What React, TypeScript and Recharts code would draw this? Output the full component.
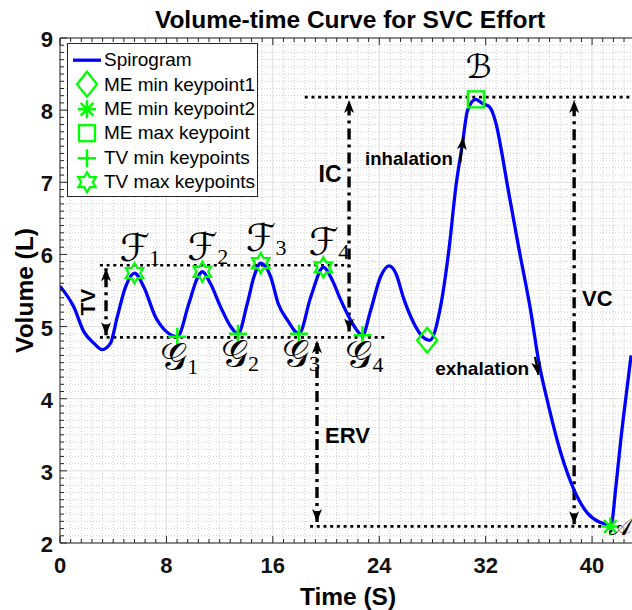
import {
  ComposedChart,
  Line,
  Scatter,
  XAxis,
  YAxis,
  CartesianGrid,
  ReferenceLine,
  ReferenceDot,
  Legend,
} from 'recharts';

// ---- chart data ----
const SPIRO_T = [
  0, 1.04, 1.79, 2.54, 3.17, 3.8, 4.3, 4.93, 5.6, 6.3, 7.19, 7.56, 8.0, 8.82,
  9.69, 10.32, 10.7, 11.3, 12.08, 12.83, 13.38, 14.08, 14.58, 15.09, 15.84, 16.4,
  17.1, 17.97, 18.85, 19.8, 20.48, 21.1, 22.0, 22.74, 23.36, 24.1, 24.74, 25.24,
  25.87, 26.62, 27.2, 27.8, 28.6, 29.26, 29.76, 30.26, 30.64, 31.26, 31.77, 32.26,
  32.77, 33.27, 33.65, 34.52, 35.4, 36.0, 36.6, 37.66, 38.66, 39.67, 40.54, 41.42,
  41.8, 42.17, 42.63, 42.93,
];
const SPIRO_V = [
  5.56, 5.27, 4.93, 4.77, 4.68, 4.77, 5.13, 5.55, 5.74, 5.55, 5.13, 5.02, 4.93, 4.86,
  5.32, 5.67, 5.76, 5.6, 5.27, 5.0, 4.9, 5.32, 5.69, 5.88, 5.69, 5.32,
  5.09, 4.9, 5.41, 5.82, 5.64, 5.37, 5.04, 4.88, 5.23, 5.69, 5.84, 5.74,
  5.37, 5.04, 4.87, 4.81, 5.27, 6.1, 6.94, 7.54, 8.0, 8.15, 8.09, 8.05,
  7.82, 7.35, 6.94, 6.06, 5.2, 4.5, 4.0, 3.24, 2.73, 2.41, 2.29, 2.25,
  2.8, 3.45, 4.15, 4.6,
];

const TV_MAX_T = [5.6, 10.7, 15.09, 19.8];
const TV_MAX_V = [5.74, 5.76, 5.88, 5.82];
const TV_MIN_T = [8.82, 13.38, 17.97, 22.74];
const TV_MIN_V = [4.86, 4.9, 4.9, 4.88];
const ME_MIN1 = [{ t: 27.6, v: 4.81 }];
const ME_MIN2 = [{ t: 41.37, v: 2.23 }];
const ME_MAX = [{ t: 31.26, v: 8.15 }];
const KEY_SUBS = ['1', '2', '3', '4'];

// dotted guide levels and dash-dot double arrows
const GUIDES = [
  { v: 5.85, from: 3.0, to: 21.73 },
  { v: 4.85, from: 3.0, to: 24.6 },
  { v: 8.18, from: 18.4, to: 43 },
  { v: 2.23, from: 18.8, to: 40.75 },
];
const DOUBLE_ARROWS = [
  { t: 3.46, lo: 4.88, hi: 5.81 },
  { t: 21.73, lo: 4.93, hi: 8.14 },
  { t: 19.32, lo: 2.29, hi: 4.81 },
  { t: 38.65, lo: 2.26, hi: 8.14 },
];
const FLOW_ARROWS = [
  { t0: 30.08, v0: 7.27, t1: 30.32, v1: 7.63, angle: 7 },
  { t0: 35.71, v0: 4.58, t1: 35.96, v1: 4.33, angle: 170 },
];
const WORD_LABELS = [
  { text: 'IC', t: 20.3, v: 7.01, anchor: 'middle', size: 23 },
  { text: 'ERV', t: 19.92, v: 3.39, anchor: 'start', size: 22 },
  { text: 'VC', t: 39.25, v: 5.29, anchor: 'start', size: 22 },
  { text: 'inhalation', t: 22.93, v: 7.24, anchor: 'start', size: 18.6 },
  { text: 'exhalation', t: 28.2, v: 4.33, anchor: 'start', size: 19 },
];

const X_MAX = 43;
const X_MAJOR = [0, 8, 16, 24, 32, 40];
const Y_MAJOR = [2, 3, 4, 5, 6, 7, 8, 9];
const X_TICKS = Array.from({ length: 54 }, (_, i) => Math.round(i * 8) / 10);
const Y_TICKS = Array.from({ length: 71 }, (_, i) => Math.round(20 + i) / 10);

const W = 632;
const H = 610;
const MARGIN = { top: 38, right: 0, bottom: 37, left: 0 };
const X_AXIS_H = 30;
const Y_AXIS_W = 60;
const PLOT_TOP = MARGIN.top;
const PLOT_BOTTOM = H - MARGIN.bottom - X_AXIS_H;
const PLOT_LEFT = Y_AXIS_W;

const FONT = '"Liberation Sans", Arial, Helvetica, sans-serif';
const MATH_FONT = '"DejaVu Sans", "DejaVu Serif", serif';
const SUB_FONT = '"Liberation Serif", "DejaVu Serif", serif';
const AXIS = '#262626';
const GREEN = '#00ff00';
const BLUE = '#0000ff';

const spiroData = SPIRO_T.map((t, i) => ({ t, v: SPIRO_V[i] }));
const tvMaxData = TV_MAX_T.map((t, i) => ({ t, v: TV_MAX_V[i] }));
const tvMinData = TV_MIN_T.map((t, i) => ({ t, v: TV_MIN_V[i] }));

const isMajor = (v: number, step: number) => Math.abs(v / step - Math.round(v / step)) < 1e-6;

// ---- marker shapes ----
const Hexagram = ({ cx, cy }: any) => {
  const R = 10;
  const pts = [];
  for (let i = 0; i < 12; i++) {
    const r = i % 2 === 0 ? R : R / Math.sqrt(3);
    const a = -Math.PI / 2 + (i * Math.PI) / 6;
    pts.push(`${cx + r * Math.cos(a)},${cy + r * Math.sin(a)}`);
  }
  return <polygon points={pts.join(' ')} fill="none" stroke={GREEN} strokeWidth={2.3} />;
};

const Plus = ({ cx, cy }: any) => (
  <path d={`M${cx - 9},${cy}H${cx + 9}M${cx},${cy - 9}V${cy + 9}`} stroke={GREEN} strokeWidth={2.5} />
);

const Diamond = ({ cx, cy }: any) => (
  <polygon
    points={`${cx},${cy - 12.5} ${cx + 10},${cy} ${cx},${cy + 12.5} ${cx - 10},${cy}`}
    fill="none"
    stroke={GREEN}
    strokeWidth={2.3}
  />
);

const Square = ({ cx, cy }: any) => (
  <rect x={cx - 8} y={cy - 8} width={16} height={16} fill="none" stroke={GREEN} strokeWidth={2.3} />
);

const Asterisk = ({ cx, cy }: any) => {
  const r = 9;
  const d = r * 0.7071;
  return (
    <path
      d={`M${cx - r},${cy}H${cx + r}M${cx},${cy - r}V${cy + r}M${cx - d},${cy - d}L${cx + d},${cy + d}M${cx - d},${cy + d}L${cx + d},${cy - d}`}
      stroke={GREEN}
      strokeWidth={2.5}
    />
  );
};

const arrowHead = (angle: number) => (p: any) => (
  <path
    d="M0,0 L5,13 L0,9.5 L-5,13 Z"
    transform={`translate(${p.cx},${p.cy}) rotate(${angle})`}
    fill="#000"
  />
);

const mathLabel = (letter: string, sub: string, dx: number, dy: number, size = 38, anchor = 'start') => (p: any) => (
  <text x={p.cx + dx} y={p.cy + dy} textAnchor={anchor as any} fontFamily={MATH_FONT} fontSize={size} fill="#000">
    {letter}
    {sub && (
      <tspan fontFamily={SUB_FONT} fontSize={22} dy={4}>
        {sub}
      </tspan>
    )}
  </text>
);

const wordLabel = (text: string, anchor: string, size: number) => (p: any) => (
  <text
    x={p.cx}
    y={p.cy}
    textAnchor={anchor as any}
    fontFamily={FONT}
    fontWeight="bold"
    fontSize={size}
    fill="#000"
  >
    {text}
  </text>
);

const tvLabel = (p: any) => (
  <text
    x={p.cx}
    y={p.cy}
    transform={`rotate(-90 ${p.cx} ${p.cy})`}
    textAnchor="middle"
    fontFamily={FONT}
    fontWeight="bold"
    fontSize={21}
    fill="#000"
  >
    TV
  </text>
);

// ---- axis ticks (MATLAB-style inward ticks) ----
const XTick = (props: any) => {
  const { x, payload } = props;
  const major = isMajor(payload.value, 8);
  const len = major ? 7 : 4;
  return (
    <g>
      <line x1={x} x2={x} y1={PLOT_BOTTOM} y2={PLOT_BOTTOM - len} stroke={AXIS} />
      <line x1={x} x2={x} y1={PLOT_TOP} y2={PLOT_TOP + len} stroke={AXIS} />
      {major && (
        <text x={x} y={PLOT_BOTTOM + 30} textAnchor="middle" fontFamily={FONT} fontWeight="bold" fontSize={22} fill="#111">
          {payload.value}
        </text>
      )}
    </g>
  );
};

const YTick = (props: any) => {
  const { y, payload } = props;
  const major = isMajor(payload.value, 1);
  const len = major ? 7 : 4;
  return (
    <g>
      <line x1={PLOT_LEFT} x2={PLOT_LEFT + len} y1={y} y2={y} stroke={AXIS} />
      {major && (
        <text x={PLOT_LEFT - 7} y={y + 9} textAnchor="end" fontFamily={FONT} fontWeight="bold" fontSize={22} fill="#111">
          {payload.value}
        </text>
      )}
    </g>
  );
};

// ---- legend ----
const LEGEND_ITEMS = [
  { label: 'Spirogram', kind: 'line' },
  { label: 'ME min keypoint1', kind: 'diamond' },
  { label: 'ME min keypoint2', kind: 'asterisk' },
  { label: 'ME max keypoint', kind: 'square' },
  { label: 'TV min keypoints', kind: 'plus' },
  { label: 'TV max keypoints', kind: 'hexagram' },
];

const legendMarker = (kind: string) => {
  const cx = 19;
  const cy = 12.2;
  if (kind === 'line') return <line x1={5} x2={33} y1={cy} y2={cy} stroke={BLUE} strokeWidth={3.3} />;
  if (kind === 'diamond') return <Diamond cx={cx} cy={cy} />;
  if (kind === 'asterisk') return <Asterisk cx={cx} cy={cy} />;
  if (kind === 'square') return <Square cx={cx} cy={cy} />;
  if (kind === 'plus') return <Plus cx={cx} cy={cy} />;
  return <Hexagram cx={cx} cy={cy} />;
};

const renderLegend = () => (
  <div
    style={{
      width: 189,
      height: 148,
      paddingTop: 4,
      boxSizing: 'content-box',
      border: `1px solid ${AXIS}`,
      background: '#fff',
      fontFamily: FONT,
      fontSize: 19,
      color: '#000',
    }}
  >
    {LEGEND_ITEMS.map((it) => (
      <div key={it.label} style={{ display: 'flex', alignItems: 'center', height: 24.4 }}>
        <svg width={36} height={24.4} style={{ overflow: 'visible', flex: 'none' }}>
          {legendMarker(it.kind)}
        </svg>
        <span style={{ whiteSpace: 'nowrap' }}>{it.label}</span>
      </div>
    ))}
  </div>
);

export default function App() {
  const xMinor = X_TICKS.filter((v) => !isMajor(v, 8));
  const yMinor = Y_TICKS.filter((v) => !isMajor(v, 1));
  return (
    <div style={{ position: 'absolute', left: 0, top: 0 }}>
      <ComposedChart width={W} height={H} margin={MARGIN}>
        <CartesianGrid
          horizontalValues={yMinor}
          verticalValues={xMinor}
          stroke="#cfcfcf"
          strokeDasharray="1 2"
        />
        <CartesianGrid horizontalValues={Y_MAJOR} verticalValues={X_MAJOR} stroke="#dedede" />
        <XAxis
          dataKey="t"
          type="number"
          domain={[0, X_MAX]}
          allowDataOverflow
          ticks={X_TICKS}
          interval={0}
          height={X_AXIS_H}
          tickSize={0}
          tickMargin={0}
          tickLine={false}
          axisLine={{ stroke: AXIS }}
          tick={XTick}
        />
        <YAxis
          type="number"
          domain={[2, 9]}
          allowDataOverflow
          ticks={Y_TICKS}
          interval={0}
          width={Y_AXIS_W}
          tickSize={0}
          tickMargin={0}
          tickLine={false}
          axisLine={{ stroke: AXIS }}
          tick={YTick}
        />
        <ReferenceLine y={9} stroke={AXIS} strokeWidth={1} />

        {GUIDES.map((g, i) => (
          <ReferenceLine
            key={`g${i}`}
            segment={[{ x: g.from, y: g.v }, { x: g.to, y: g.v }]}
            stroke="#000"
            strokeWidth={2.7}
            strokeDasharray="3 3.7"
          />
        ))}
        {DOUBLE_ARROWS.map((a, i) => (
          <ReferenceLine
            key={`a${i}`}
            segment={[{ x: a.t, y: a.lo }, { x: a.t, y: a.hi }]}
            stroke="#000"
            strokeWidth={3.4}
            strokeDasharray="11 5 3 5"
          />
        ))}
        {DOUBLE_ARROWS.map((a, i) => (
          <ReferenceDot key={`ah${i}`} x={a.t} y={a.hi} r={0} shape={arrowHead(0)} />
        ))}
        {DOUBLE_ARROWS.map((a, i) => (
          <ReferenceDot key={`al${i}`} x={a.t} y={a.lo} r={0} shape={arrowHead(180)} />
        ))}

        <Line
          data={spiroData}
          dataKey="v"
          type="monotone"
          stroke={BLUE}
          strokeWidth={3.3}
          dot={false}
          activeDot={false}
          legendType="none"
          isAnimationActive={false}
        />

        {FLOW_ARROWS.map((a, i) => (
          <ReferenceLine
            key={`f${i}`}
            segment={[{ x: a.t0, y: a.v0 }, { x: a.t1, y: a.v1 }]}
            stroke="#000"
            strokeWidth={2.2}
          />
        ))}
        {FLOW_ARROWS.map((a, i) => (
          <ReferenceDot key={`fh${i}`} x={a.t1} y={a.v1} r={0} shape={arrowHead(a.angle)} />
        ))}

        <Scatter data={tvMaxData} dataKey="v" shape={Hexagram} isAnimationActive={false} legendType="none" />
        <Scatter data={tvMinData} dataKey="v" shape={Plus} isAnimationActive={false} legendType="none" />
        <Scatter data={ME_MIN1} dataKey="v" shape={Diamond} isAnimationActive={false} legendType="none" />
        <Scatter data={ME_MIN2} dataKey="v" shape={Asterisk} isAnimationActive={false} legendType="none" />
        <Scatter data={ME_MAX} dataKey="v" shape={Square} isAnimationActive={false} legendType="none" />

        {tvMaxData.map((d, i) => (
          <ReferenceDot key={`F${i}`} x={d.t} y={d.v} r={0} shape={mathLabel('\u2131', KEY_SUBS[i], -15, -12)} />
        ))}
        {tvMinData.map((d, i) => (
          <ReferenceDot key={`G${i}`} x={d.t} y={d.v} r={0} shape={mathLabel('\u{1D4A2}', KEY_SUBS[i], -17, 33)} />
        ))}
        <ReferenceDot x={ME_MAX[0].t} y={ME_MAX[0].v} r={0} shape={mathLabel('\u212C', '', -10, -21, 33)} />
        <ReferenceDot x={ME_MIN2[0].t} y={ME_MIN2[0].v} r={0} shape={mathLabel('\u{1D49C}', '', 22, 9, 24, 'end')} />

        {WORD_LABELS.map((w) => (
          <ReferenceDot key={w.text} x={w.t} y={w.v} r={0} shape={wordLabel(w.text, w.anchor, w.size)} />
        ))}
        <ReferenceDot x={2.63} y={5.34} r={0} shape={tvLabel} />

        <Legend
          layout="vertical"
          align="center"
          verticalAlign="middle"
          content={renderLegend}
          wrapperStyle={{ left: 67, top: 43, width: 195, height: 155 }}
        />

        <text x={350} y={28} textAnchor="middle" fontFamily={FONT} fontWeight="bold" fontSize={24.5} fill="#000">
          Volume-time Curve for SVC Effort
        </text>
        <text x={348} y={605} textAnchor="middle" fontFamily={FONT} fontWeight="bold" fontSize={24.5} fill="#000">
          Time (S)
        </text>
        <text
          x={33}
          y={290.5}
          transform="rotate(-90 33 290.5)"
          textAnchor="middle"
          fontFamily={FONT}
          fontWeight="bold"
          fontSize={24.5}
          fill="#000"
        >
          Volume (L)
        </text>
      </ComposedChart>
    </div>
  );
}
